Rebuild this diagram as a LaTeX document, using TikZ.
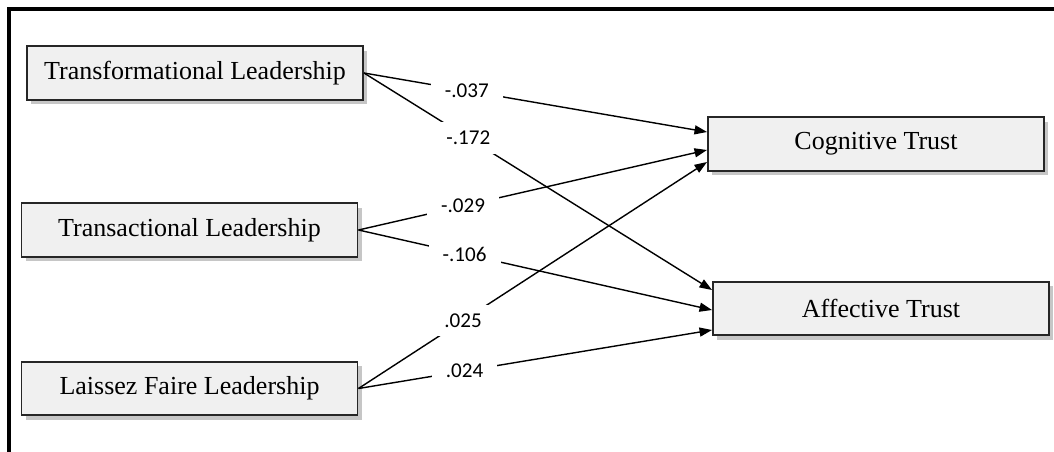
\documentclass[tikz,border=0pt]{standalone}
\usepackage{fontspec}
\setmainfont{Liberation Serif}
\newfontfamily\coeffont{Carlito}
\usetikzlibrary{positioning,
        shadows,
        arrows.meta}

\begin{document}
\begin{tikzpicture}[
    construct/.style={rectangle,draw=black!85,line width=1.1pt,fill=black!6,
        minimum width=6.72cm,minimum height=1.07cm,
        drop shadow={shadow xshift=0.08cm,shadow yshift=-0.09cm,opacity=0.45},
        font=\fontsize{14.8}{17}\selectfont},
    effect/.style={line width=0.8pt,-{Triangle[length=0.25cm,width=0.18cm]}},
    coef/.style={fill=white,inner xsep=8pt,inner ysep=5pt,
        font=\coeffont\fontsize{12}{14}\selectfont}]
    \useasboundingbox (0,0) rectangle (21.08,-9.04);
    \draw[line width=2pt] (0.18,-9.04) -- (0.18,-0.18) -- (21.08,-0.18);

    \node [construct] (TFL) at (3.9,-1.46) {Transformational Leadership};
    \node [construct] (TAL) at (3.79,-4.6) {Transactional Leadership};
    \node [construct] (LFL) at (3.79,-7.77) {Laissez Faire Leadership};
    \node [construct] (CT) at (17.52,-2.88) {Cognitive Trust};
    \node [construct] (AT) at (17.62,-6.17) {Affective Trust};

    \draw [effect] (TFL.east) -- node[coef,pos=0.3] (b1) {-.037} ([yshift=0.24cm]CT.west);
    \draw [effect] (TFL.east) -- node[coef,pos=0.3] (b2) {-.172} ([yshift=0.37cm]AT.west);
    \draw [effect] (TAL.east) -- node[coef,pos=0.3] (b3) {-.029} ([yshift=-0.12cm]CT.west);
    \draw [effect] (TAL.east) -- node[coef,pos=0.3] (b4) {-.106} ([yshift=-0.03cm]AT.west);
    \draw [effect] (LFL.east) -- node[coef,pos=0.3] (b5) {.025} ([yshift=-0.36cm]CT.west);
    \draw [effect] (LFL.east) -- node[coef,pos=0.3] (b6) {.024} ([yshift=-0.43cm]AT.west);
\end{tikzpicture}
\end{document}
